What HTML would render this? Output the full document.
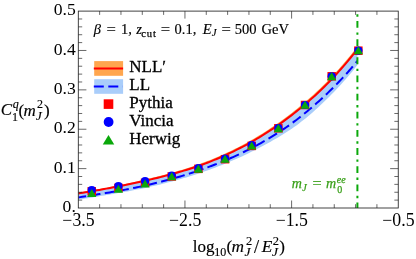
<!DOCTYPE html>
<html><head><meta charset="utf-8"><title>plot</title><style>html,body{margin:0;padding:0;background:#fff}svg text{font-family:"Liberation Serif",serif}</style></head><body>
<svg width="416" height="259" viewBox="0 0 416 259" style="display:block;will-change:transform">
<rect width="416" height="259" fill="#fff"/>
<clipPath id="c"><rect x="78.3" y="11.1" width="319.95" height="196.9"/></clipPath>
<g clip-path="url(#c)">
<path d="M78.30,192.62 L80.65,192.23 L82.99,191.84 L85.34,191.44 L87.68,191.04 L90.03,190.63 L92.37,190.22 L94.72,189.81 L97.06,189.39 L99.41,188.96 L101.75,188.53 L104.10,188.10 L106.44,187.65 L108.79,187.21 L111.14,186.76 L113.48,186.30 L115.83,185.84 L118.17,185.37 L120.52,184.90 L122.86,184.42 L125.21,183.93 L127.55,183.44 L129.90,182.94 L132.24,182.44 L134.59,181.92 L136.93,181.40 L139.28,180.87 L141.63,180.34 L143.97,179.80 L146.32,179.25 L148.66,178.69 L151.01,178.12 L153.35,177.55 L155.70,176.96 L158.04,176.37 L160.39,175.77 L162.73,175.16 L165.08,174.54 L167.42,173.91 L169.77,173.27 L172.12,172.62 L174.46,171.95 L176.81,171.28 L179.15,170.59 L181.50,169.88 L183.84,169.17 L186.19,168.43 L188.53,167.69 L190.88,166.92 L193.22,166.14 L195.57,165.34 L197.91,164.53 L200.26,163.69 L202.61,162.84 L204.95,161.97 L207.30,161.07 L209.64,160.16 L211.99,159.22 L214.33,158.26 L216.68,157.27 L219.02,156.27 L221.37,155.24 L223.71,154.18 L226.06,153.11 L228.40,152.01 L230.75,150.88 L233.09,149.74 L235.44,148.57 L237.79,147.38 L240.13,146.16 L242.48,144.93 L244.82,143.66 L247.17,142.38 L249.51,141.07 L251.86,139.74 L254.20,138.38 L256.55,137.00 L258.89,135.59 L261.24,134.15 L263.58,132.68 L265.93,131.19 L268.28,129.67 L270.62,128.12 L272.97,126.55 L275.31,124.94 L277.66,123.31 L280.00,121.64 L282.35,119.95 L284.69,118.23 L287.04,116.48 L289.38,114.70 L291.73,112.89 L294.07,111.06 L296.42,109.19 L298.77,107.29 L301.11,105.36 L303.46,103.40 L305.80,101.41 L308.15,99.37 L310.49,97.31 L312.84,95.20 L315.18,93.05 L317.53,90.87 L319.87,88.63 L322.22,86.36 L324.56,84.04 L326.91,81.68 L329.26,79.27 L331.60,76.81 L333.95,74.31 L336.29,71.76 L338.64,69.16 L340.98,66.52 L343.33,63.82 L345.67,61.08 L348.02,58.28 L350.36,55.43 L352.71,52.54 L355.05,49.59 L357.40,46.59 L357.40,51.81 L355.05,54.78 L352.71,57.70 L350.36,60.57 L348.02,63.38 L345.67,66.15 L343.33,68.86 L340.98,71.53 L338.64,74.14 L336.29,76.71 L333.95,79.23 L331.60,81.70 L329.26,84.13 L326.91,86.51 L324.56,88.84 L322.22,91.13 L319.87,93.37 L317.53,95.57 L315.18,97.73 L312.84,99.84 L310.49,101.92 L308.15,103.96 L305.80,105.96 L303.46,107.92 L301.11,109.86 L298.77,111.75 L296.42,113.62 L294.07,115.46 L291.73,117.26 L289.38,119.04 L287.04,120.79 L284.69,122.51 L282.35,124.20 L280.00,125.86 L277.66,127.49 L275.31,129.10 L272.97,130.67 L270.62,132.22 L268.28,133.74 L265.93,135.23 L263.58,136.69 L261.24,138.12 L258.89,139.53 L256.55,140.91 L254.20,142.26 L251.86,143.59 L249.51,144.89 L247.17,146.17 L244.82,147.43 L242.48,148.66 L240.13,149.86 L237.79,151.05 L235.44,152.21 L233.09,153.35 L230.75,154.46 L228.40,155.56 L226.06,156.62 L223.71,157.67 L221.37,158.69 L219.02,159.69 L216.68,160.67 L214.33,161.62 L211.99,162.55 L209.64,163.46 L207.30,164.35 L204.95,165.21 L202.61,166.05 L200.26,166.88 L197.91,167.68 L195.57,168.47 L193.22,169.23 L190.88,169.98 L188.53,170.72 L186.19,171.44 L183.84,172.14 L181.50,172.82 L179.15,173.50 L176.81,174.15 L174.46,174.80 L172.12,175.43 L169.77,176.06 L167.42,176.67 L165.08,177.27 L162.73,177.86 L160.39,178.44 L158.04,179.01 L155.70,179.57 L153.35,180.12 L151.01,180.67 L148.66,181.20 L146.32,181.73 L143.97,182.25 L141.63,182.76 L139.28,183.27 L136.93,183.76 L134.59,184.25 L132.24,184.74 L129.90,185.21 L127.55,185.68 L125.21,186.14 L122.86,186.60 L120.52,187.05 L118.17,187.49 L115.83,187.93 L113.48,188.36 L111.14,188.78 L108.79,189.21 L106.44,189.62 L104.10,190.03 L101.75,190.43 L99.41,190.83 L97.06,191.23 L94.72,191.62 L92.37,192.00 L90.03,192.38 L87.68,192.76 L85.34,193.13 L82.99,193.50 L80.65,193.86 L78.30,194.22Z" fill="#ffa64f"/>
<path d="M78.30,193.42 L80.65,193.04 L82.99,192.67 L85.34,192.29 L87.68,191.90 L90.03,191.51 L92.37,191.11 L94.72,190.71 L97.06,190.31 L99.41,189.90 L101.75,189.48 L104.10,189.06 L106.44,188.64 L108.79,188.21 L111.14,187.77 L113.48,187.33 L115.83,186.88 L118.17,186.43 L120.52,185.97 L122.86,185.51 L125.21,185.04 L127.55,184.56 L129.90,184.08 L132.24,183.59 L134.59,183.09 L136.93,182.58 L139.28,182.07 L141.63,181.55 L143.97,181.02 L146.32,180.49 L148.66,179.94 L151.01,179.39 L153.35,178.83 L155.70,178.27 L158.04,177.69 L160.39,177.10 L162.73,176.51 L165.08,175.90 L167.42,175.29 L169.77,174.66 L172.12,174.03 L174.46,173.38 L176.81,172.72 L179.15,172.04 L181.50,171.35 L183.84,170.65 L186.19,169.94 L188.53,169.20 L190.88,168.45 L193.22,167.69 L195.57,166.91 L197.91,166.10 L200.26,165.29 L202.61,164.45 L204.95,163.59 L207.30,162.71 L209.64,161.81 L211.99,160.89 L214.33,159.94 L216.68,158.97 L219.02,157.98 L221.37,156.97 L223.71,155.93 L226.06,154.87 L228.40,153.78 L230.75,152.67 L233.09,151.54 L235.44,150.39 L237.79,149.21 L240.13,148.01 L242.48,146.79 L244.82,145.55 L247.17,144.28 L249.51,142.98 L251.86,141.67 L254.20,140.32 L256.55,138.95 L258.89,137.56 L261.24,136.14 L263.58,134.69 L265.93,133.21 L268.28,131.71 L270.62,130.17 L272.97,128.61 L275.31,127.02 L277.66,125.40 L280.00,123.75 L282.35,122.07 L284.69,120.37 L287.04,118.63 L289.38,116.87 L291.73,115.08 L294.07,113.26 L296.42,111.40 L298.77,109.52 L301.11,107.61 L303.46,105.66 L305.80,103.68 L308.15,101.67 L310.49,99.61 L312.84,97.52 L315.18,95.39 L317.53,93.22 L319.87,91.00 L322.22,88.74 L324.56,86.44 L326.91,84.09 L329.26,81.70 L331.60,79.26 L333.95,76.77 L336.29,74.24 L338.64,71.65 L340.98,69.02 L343.33,66.34 L345.67,63.61 L348.02,60.83 L350.36,58.00 L352.71,55.12 L355.05,52.19 L357.40,49.20 L357.40,65.10 L355.05,68.03 L352.71,70.89 L350.36,73.70 L348.02,76.46 L345.67,79.16 L343.33,81.81 L340.98,84.41 L338.64,86.96 L336.29,89.46 L333.95,91.92 L331.60,94.34 L329.26,96.71 L326.91,99.04 L324.56,101.33 L322.22,103.57 L319.87,105.78 L317.53,107.94 L315.18,110.07 L312.84,112.15 L310.49,114.19 L308.15,116.19 L305.80,118.13 L303.46,120.03 L301.11,121.87 L298.77,123.66 L296.42,125.40 L294.07,127.09 L291.73,128.72 L289.38,130.31 L287.04,131.86 L284.69,133.36 L282.35,134.83 L280.00,136.26 L277.66,137.66 L275.31,139.03 L272.97,140.37 L270.62,141.69 L268.28,142.99 L265.93,144.27 L263.58,145.54 L261.24,146.79 L258.89,148.02 L256.55,149.23 L254.20,150.43 L251.86,151.61 L249.51,152.77 L247.17,153.91 L244.82,155.03 L242.48,156.13 L240.13,157.22 L237.79,158.28 L235.44,159.32 L233.09,160.35 L230.75,161.35 L228.40,162.34 L226.06,163.31 L223.71,164.26 L221.37,165.20 L219.02,166.12 L216.68,167.02 L214.33,167.90 L211.99,168.78 L209.64,169.63 L207.30,170.47 L204.95,171.30 L202.61,172.12 L200.26,172.92 L197.91,173.70 L195.57,174.47 L193.22,175.23 L190.88,175.97 L188.53,176.69 L186.19,177.41 L183.84,178.10 L181.50,178.79 L179.15,179.46 L176.81,180.12 L174.46,180.76 L172.12,181.39 L169.77,182.01 L167.42,182.62 L165.08,183.22 L162.73,183.81 L160.39,184.39 L158.04,184.95 L155.70,185.51 L153.35,186.06 L151.01,186.60 L148.66,187.12 L146.32,187.64 L143.97,188.15 L141.63,188.65 L139.28,189.14 L136.93,189.61 L134.59,190.08 L132.24,190.54 L129.90,190.99 L127.55,191.43 L125.21,191.86 L122.86,192.28 L120.52,192.70 L118.17,193.11 L115.83,193.52 L113.48,193.92 L111.14,194.32 L108.79,194.71 L106.44,195.10 L104.10,195.49 L101.75,195.87 L99.41,196.25 L97.06,196.63 L94.72,197.01 L92.37,197.39 L90.03,197.76 L87.68,198.14 L85.34,198.51 L82.99,198.88 L80.65,199.25 L78.30,199.62Z" fill="#a9cdfa"/>
<path d="M78.30,197.42 L80.26,197.12 L82.22,196.82 L84.18,196.52 L86.14,196.22 L88.11,195.91 L90.07,195.61 L92.03,195.30 L93.99,194.99 L95.95,194.68 L97.91,194.36 L99.87,194.04 L101.83,193.72 L103.79,193.40 L105.75,193.07 L107.72,192.75 L109.68,192.42 L111.64,192.08 L113.60,191.74 L115.56,191.40 L117.52,191.05 L119.48,190.70 L121.44,190.35 L123.40,189.99 L125.36,189.62 L127.33,189.25 L129.29,188.87 L131.25,188.49 L133.21,188.10 L135.17,187.70 L137.13,187.29 L139.09,186.88 L141.05,186.46 L143.01,186.03 L144.97,185.59 L146.94,185.15 L148.90,184.69 L150.86,184.23 L152.82,183.77 L154.78,183.29 L156.74,182.81 L158.70,182.32 L160.66,181.83 L162.62,181.33 L164.58,180.81 L166.55,180.30 L168.51,179.77 L170.47,179.24 L172.43,178.69 L174.39,178.14 L176.35,177.58 L178.31,177.01 L180.27,176.43 L182.23,175.85 L184.19,175.25 L186.16,174.64 L188.12,174.02 L190.08,173.40 L192.04,172.76 L194.00,172.11" fill="none" stroke="#0000ff" stroke-width="2" stroke-dasharray="10 4.4" stroke-dashoffset="2.00"/>
<path d="M194.00,172.11 L195.23,171.70 L196.47,171.28 L197.70,170.86 L198.94,170.43 L200.17,170.00 L201.41,169.57 L202.64,169.13 L203.88,168.69 L205.11,168.24 L206.34,167.80 L207.58,167.34 L208.81,166.88 L210.05,166.42 L211.28,165.96 L212.52,165.49 L213.75,165.02 L214.99,164.54 L216.22,164.06 L217.46,163.57 L218.69,163.08 L219.92,162.59 L221.16,162.09 L222.39,161.59 L223.63,161.08 L224.86,160.57 L226.10,160.05 L227.33,159.53 L228.57,159.00 L229.80,158.47" fill="none" stroke="#0000ff" stroke-width="2" stroke-dasharray="10 4.2"/>
<path d="M229.80,158.47 L231.42,157.76 L233.03,157.05 L234.65,156.32 L236.26,155.59 L237.88,154.84 L239.49,154.09 L241.11,153.32 L242.72,152.55 L244.34,151.76 L245.95,150.96 L247.57,150.15 L249.18,149.33 L250.80,148.50 L252.41,147.66 L254.03,146.80 L255.64,145.94 L257.26,145.06 L258.87,144.17 L260.49,143.27 L262.10,142.36 L263.72,141.44 L265.33,140.51 L266.95,139.56 L268.56,138.60 L270.18,137.64 L271.79,136.66 L273.41,135.66 L275.03,134.65 L276.64,133.63 L278.26,132.60 L279.87,131.55 L281.49,130.49 L283.10,129.41 L284.72,128.32 L286.33,127.21 L287.95,126.08 L289.56,124.94 L291.18,123.78 L292.79,122.60 L294.41,121.40 L296.02,120.19 L297.64,118.96 L299.25,117.71 L300.87,116.44 L302.48,115.16 L304.10,113.85 L305.71,112.53 L307.33,111.20 L308.94,109.84 L310.56,108.47 L312.17,107.09 L313.79,105.69 L315.41,104.27 L317.02,102.84 L318.64,101.39 L320.25,99.93 L321.87,98.45 L323.48,96.96 L325.10,95.45 L326.71,93.92 L328.33,92.38 L329.94,90.82 L331.56,89.24 L333.17,87.64 L334.79,86.02 L336.40,84.39 L338.02,82.73 L339.63,81.05 L341.25,79.35 L342.86,77.62 L344.48,75.87 L346.09,74.10 L347.71,72.30 L349.32,70.47 L350.94,68.61 L352.55,66.73 L354.17,64.82 L355.78,62.87 L357.40,60.90" fill="none" stroke="#0000ff" stroke-width="2" stroke-dasharray="10 4.5"/>
<path d="M78.30,193.42 L80.65,193.04 L82.99,192.67 L85.34,192.29 L87.68,191.90 L90.03,191.51 L92.37,191.11 L94.72,190.71 L97.06,190.31 L99.41,189.90 L101.75,189.48 L104.10,189.06 L106.44,188.64 L108.79,188.21 L111.14,187.77 L113.48,187.33 L115.83,186.88 L118.17,186.43 L120.52,185.97 L122.86,185.51 L125.21,185.04 L127.55,184.56 L129.90,184.08 L132.24,183.59 L134.59,183.09 L136.93,182.58 L139.28,182.07 L141.63,181.55 L143.97,181.02 L146.32,180.49 L148.66,179.94 L151.01,179.39 L153.35,178.83 L155.70,178.27 L158.04,177.69 L160.39,177.10 L162.73,176.51 L165.08,175.90 L167.42,175.29 L169.77,174.66 L172.12,174.03 L174.46,173.38 L176.81,172.72 L179.15,172.04 L181.50,171.35 L183.84,170.65 L186.19,169.94 L188.53,169.20 L190.88,168.45 L193.22,167.69 L195.57,166.91 L197.91,166.10 L200.26,165.29 L202.61,164.45 L204.95,163.59 L207.30,162.71 L209.64,161.81 L211.99,160.89 L214.33,159.94 L216.68,158.97 L219.02,157.98 L221.37,156.97 L223.71,155.93 L226.06,154.87 L228.40,153.78 L230.75,152.67 L233.09,151.54 L235.44,150.39 L237.79,149.21 L240.13,148.01 L242.48,146.79 L244.82,145.55 L247.17,144.28 L249.51,142.98 L251.86,141.67 L254.20,140.32 L256.55,138.95 L258.89,137.56 L261.24,136.14 L263.58,134.69 L265.93,133.21 L268.28,131.71 L270.62,130.17 L272.97,128.61 L275.31,127.02 L277.66,125.40 L280.00,123.75 L282.35,122.07 L284.69,120.37 L287.04,118.63 L289.38,116.87 L291.73,115.08 L294.07,113.26 L296.42,111.40 L298.77,109.52 L301.11,107.61 L303.46,105.66 L305.80,103.68 L308.15,101.67 L310.49,99.61 L312.84,97.52 L315.18,95.39 L317.53,93.22 L319.87,91.00 L322.22,88.74 L324.56,86.44 L326.91,84.09 L329.26,81.70 L331.60,79.26 L333.95,76.77 L336.29,74.24 L338.64,71.65 L340.98,69.02 L343.33,66.34 L345.67,63.61 L348.02,60.83 L350.36,58.00 L352.71,55.12 L355.05,52.19 L357.40,49.20" fill="none" stroke="#ff0000" stroke-width="2"/>
<path d="M357.4,14.25 V208.0" fill="none" stroke="#0aa80a" stroke-width="2" stroke-dasharray="2.4 4.4 6.8 4.55"/>
</g>
<rect x="87.50" y="187.05" width="8.5" height="8.5" fill="#ff0000"/>
<rect x="114.16" y="183.62" width="8.5" height="8.5" fill="#ff0000"/>
<rect x="140.82" y="178.55" width="8.5" height="8.5" fill="#ff0000"/>
<rect x="167.48" y="172.20" width="8.5" height="8.5" fill="#ff0000"/>
<rect x="194.14" y="164.60" width="8.5" height="8.5" fill="#ff0000"/>
<rect x="220.80" y="154.95" width="8.5" height="8.5" fill="#ff0000"/>
<rect x="247.46" y="141.65" width="8.5" height="8.5" fill="#ff0000"/>
<rect x="274.12" y="124.05" width="8.5" height="8.5" fill="#ff0000"/>
<rect x="300.78" y="100.75" width="8.5" height="8.5" fill="#ff0000"/>
<rect x="327.44" y="72.05" width="8.5" height="8.5" fill="#ff0000"/>
<rect x="354.10" y="46.45" width="8.5" height="8.5" fill="#ff0000"/>
<circle cx="91.75" cy="190.00" r="4.1" fill="#0000ff"/>
<circle cx="118.41" cy="186.00" r="4.1" fill="#0000ff"/>
<circle cx="145.07" cy="181.00" r="4.1" fill="#0000ff"/>
<circle cx="171.73" cy="175.50" r="4.1" fill="#0000ff"/>
<circle cx="198.39" cy="168.00" r="4.1" fill="#0000ff"/>
<circle cx="225.05" cy="158.50" r="4.1" fill="#0000ff"/>
<circle cx="251.71" cy="145.20" r="4.1" fill="#0000ff"/>
<circle cx="278.37" cy="128.00" r="4.1" fill="#0000ff"/>
<circle cx="305.03" cy="105.00" r="4.1" fill="#0000ff"/>
<circle cx="331.69" cy="76.30" r="4.1" fill="#0000ff"/>
<circle cx="358.35" cy="50.70" r="4.1" fill="#0000ff"/>
<path d="M91.75,189.00 L96.35,197.05 L87.15,197.05Z" fill="#0aa80a"/>
<path d="M118.41,184.65 L123.01,192.70 L113.81,192.70Z" fill="#0aa80a"/>
<path d="M145.07,179.50 L149.67,187.55 L140.47,187.55Z" fill="#0aa80a"/>
<path d="M171.73,172.30 L176.33,180.35 L167.13,180.35Z" fill="#0aa80a"/>
<path d="M198.39,164.60 L202.99,172.65 L193.79,172.65Z" fill="#0aa80a"/>
<path d="M225.05,154.80 L229.65,162.85 L220.45,162.85Z" fill="#0aa80a"/>
<path d="M251.71,141.50 L256.31,149.55 L247.11,149.55Z" fill="#0aa80a"/>
<path d="M278.37,124.10 L282.97,132.15 L273.77,132.15Z" fill="#0aa80a"/>
<path d="M305.03,100.80 L309.63,108.85 L300.43,108.85Z" fill="#0aa80a"/>
<path d="M331.69,72.15 L336.29,80.20 L327.09,80.20Z" fill="#0aa80a"/>
<path d="M358.35,46.30 L362.95,54.35 L353.75,54.35Z" fill="#0aa80a"/>
<path d="M99.63,208.0 v-3.8 M99.63,11.1 v3.8 M120.96,208.0 v-3.8 M120.96,11.1 v3.8 M142.29,208.0 v-3.8 M142.29,11.1 v3.8 M163.62,208.0 v-3.8 M163.62,11.1 v3.8 M184.95,208.0 v-7.5 M184.95,11.1 v7.5 M206.28,208.0 v-3.8 M206.28,11.1 v3.8 M227.61,208.0 v-3.8 M227.61,11.1 v3.8 M248.94,208.0 v-3.8 M248.94,11.1 v3.8 M270.27,208.0 v-3.8 M270.27,11.1 v3.8 M291.60,208.0 v-7.5 M291.60,11.1 v7.5 M312.93,208.0 v-3.8 M312.93,11.1 v3.8 M334.26,208.0 v-3.8 M334.26,11.1 v3.8 M355.59,208.0 v-3.8 M355.59,11.1 v3.8 M376.92,208.0 v-3.8 M376.92,11.1 v3.8 M78.3,200.12 h3.9 M398.25,200.12 h-3.9 M78.3,192.25 h3.9 M398.25,192.25 h-3.9 M78.3,184.37 h3.9 M398.25,184.37 h-3.9 M78.3,176.50 h3.9 M398.25,176.50 h-3.9 M78.3,168.62 h8.1 M398.25,168.62 h-8.1 M78.3,160.74 h3.9 M398.25,160.74 h-3.9 M78.3,152.87 h3.9 M398.25,152.87 h-3.9 M78.3,144.99 h3.9 M398.25,144.99 h-3.9 M78.3,137.12 h3.9 M398.25,137.12 h-3.9 M78.3,129.24 h8.1 M398.25,129.24 h-8.1 M78.3,121.36 h3.9 M398.25,121.36 h-3.9 M78.3,113.49 h3.9 M398.25,113.49 h-3.9 M78.3,105.61 h3.9 M398.25,105.61 h-3.9 M78.3,97.74 h3.9 M398.25,97.74 h-3.9 M78.3,89.86 h8.1 M398.25,89.86 h-8.1 M78.3,81.98 h3.9 M398.25,81.98 h-3.9 M78.3,74.11 h3.9 M398.25,74.11 h-3.9 M78.3,66.23 h3.9 M398.25,66.23 h-3.9 M78.3,58.36 h3.9 M398.25,58.36 h-3.9 M78.3,50.48 h8.1 M398.25,50.48 h-8.1 M78.3,42.60 h3.9 M398.25,42.60 h-3.9 M78.3,34.73 h3.9 M398.25,34.73 h-3.9 M78.3,26.85 h3.9 M398.25,26.85 h-3.9 M78.3,18.98 h3.9 M398.25,18.98 h-3.9" stroke="#2a2a2a" stroke-width="0.7" fill="none"/>
<rect x="78.3" y="11.1" width="319.95" height="196.9" fill="none" stroke="#222" stroke-width="0.85"/>
<rect x="94.2" y="61.1" width="28.9" height="14.7" fill="#ffa64f"/>
<path d="M93.8,68.5 H123.1" stroke="#ff0000" stroke-width="2"/>
<rect x="94.2" y="79.2" width="28.9" height="14.6" fill="#a9cdfa"/>
<path d="M93.8,86.4 H122.9" stroke="#0000ff" stroke-width="2" stroke-dasharray="10 4.5"/>
<rect x="103.7" y="99.3" width="9.6" height="9.6" fill="#ff0000"/>
<circle cx="108.6" cy="122" r="4.9" fill="#0000ff"/>
<path d="M108.5,135 L114.25,144.5 L102.75,144.5Z" fill="#0aa80a"/>
<text x="129.3" y="72.25" font-size="17" text-anchor="start"  stroke="#000" stroke-width="0.3">NLL′</text>
<text x="129.3" y="90.1" font-size="17" text-anchor="start"  stroke="#000" stroke-width="0.3">LL</text>
<text x="129.3" y="107.9" font-size="17" text-anchor="start"  stroke="#000" stroke-width="0.3">Pythia</text>
<text x="129.3" y="126" font-size="17" text-anchor="start"  stroke="#000" stroke-width="0.3">Vincia</text>
<text x="129.3" y="144" font-size="17" text-anchor="start"  stroke="#000" stroke-width="0.3">Herwig</text>
<text x="75.8" y="212.2" font-size="17.6" text-anchor="end"  >0.</text>
<text x="75.8" y="172.82" font-size="17.6" text-anchor="end"  >0.1</text>
<text x="75.8" y="133.44" font-size="17.6" text-anchor="end"  >0.2</text>
<text x="75.8" y="94.05999999999999" font-size="17.6" text-anchor="end"  >0.3</text>
<text x="75.8" y="54.67999999999999" font-size="17.6" text-anchor="end"  >0.4</text>
<text x="75.8" y="15.299999999999994" font-size="17.6" text-anchor="end"  >0.5</text>
<text x="78.5" y="225.8" font-size="17.8" text-anchor="middle"  >−3.5</text>
<text x="185.14999999999998" y="225.8" font-size="17.8" text-anchor="middle"  >−2.5</text>
<text x="291.79999999999995" y="225.8" font-size="17.8" text-anchor="middle"  >−1.5</text>
<text x="398.45" y="225.8" font-size="17.8" text-anchor="middle"  >−0.5</text>
<text x="93.8" y="34.0" font-size="14.5" font-style="italic" stroke="#000" stroke-width="0.15" >β</text>
<text x="106.4" y="34.0" font-size="14.5" textLength="9.40" lengthAdjust="spacingAndGlyphs" stroke="#000" stroke-width="0.15" >=</text>
<text x="120.9" y="34.0" font-size="14.5" stroke="#000" stroke-width="0.15" >1,</text>
<text x="136.3" y="34.0" font-size="14.5" font-style="italic" stroke="#000" stroke-width="0.15" >z</text>
<text x="141.2" y="36.6" font-size="10.5" letter-spacing="0.9" stroke="#000" stroke-width="0.25" >cut</text>
<text x="160.8" y="34.0" font-size="14.5" textLength="9.40" lengthAdjust="spacingAndGlyphs" stroke="#000" stroke-width="0.15" >=</text>
<text x="174.6" y="34.0" font-size="14.5" stroke="#000" stroke-width="0.15" >0.1,</text>
<text x="202.8" y="34.0" font-size="14.5" font-style="italic" stroke="#000" stroke-width="0.15" >E</text>
<text x="211.8" y="36.3" font-size="10.8" font-style="italic" stroke="#000" stroke-width="0.15" >J</text>
<text x="221.5" y="34.0" font-size="14.5" textLength="9.40" lengthAdjust="spacingAndGlyphs" stroke="#000" stroke-width="0.15" >=</text>
<text x="234.7" y="34.0" font-size="14.5" stroke="#000" stroke-width="0.15" >500</text>
<text x="261.6" y="34.0" font-size="14.5" stroke="#000" stroke-width="0.15" >GeV</text>
<text x="0.7" y="115.19999999999999" font-size="17" font-style="italic" stroke="#000" stroke-width="0.15" >C</text>
<text x="12.8" y="107.8" font-size="12" font-style="italic" stroke="#000" stroke-width="0.15" >q</text>
<text x="11.9" y="120.8" font-size="12" stroke="#000" stroke-width="0.15" >1</text>
<text x="18.5" y="115.6" font-size="17" stroke="#000" stroke-width="0.15" >(</text>
<text x="23.5" y="115.6" font-size="17" font-style="italic" stroke="#000" stroke-width="0.15" >m</text>
<text x="37.0" y="108.1" font-size="12" stroke="#000" stroke-width="0.15" >2</text>
<text x="36.0" y="119.6" font-size="13" font-style="italic" stroke="#000" stroke-width="0.15" >J</text>
<text x="43.9" y="115.6" font-size="17" stroke="#000" stroke-width="0.15" >)</text>
<text x="192.8" y="252.2" font-size="17" stroke="#000" stroke-width="0.15" >log</text>
<text x="214.3" y="255.6" font-size="12" stroke="#000" stroke-width="0.15" >10</text>
<text x="226.4" y="252.2" font-size="17" stroke="#000" stroke-width="0.15" >(</text>
<text x="231.4" y="252.2" font-size="17.3" font-style="italic" stroke="#000" stroke-width="0.15" >m</text>
<text x="245.9" y="245.0" font-size="12.5" stroke="#000" stroke-width="0.15" >2</text>
<text x="244.4" y="256.2" font-size="13.5" font-style="italic" stroke="#000" stroke-width="0.15" >J</text>
<text x="254.0" y="253.0" font-size="18.5" stroke="#000" stroke-width="0.15" >/</text>
<text x="261.8" y="252.2" font-size="17.3" font-style="italic" stroke="#000" stroke-width="0.15" >E</text>
<text x="272.8" y="245.0" font-size="12.5" stroke="#000" stroke-width="0.15" >2</text>
<text x="271.9" y="256.2" font-size="13.5" font-style="italic" stroke="#000" stroke-width="0.15" >J</text>
<text x="279.3" y="252.2" font-size="17" stroke="#000" stroke-width="0.15" >)</text>
<text x="291.7" y="187.9" font-size="14" font-style="italic" fill="#3aa01a" stroke="#3aa01a" stroke-width="0.25" >m</text>
<text x="302.2" y="191.1" font-size="10" font-style="italic" fill="#3aa01a" stroke="#3aa01a" stroke-width="0.25" >J</text>
<text x="312.6" y="187.9" font-size="14" textLength="9.08" lengthAdjust="spacingAndGlyphs" fill="#3aa01a" stroke="#3aa01a" stroke-width="0.25" >=</text>
<text x="326.0" y="187.9" font-size="14" font-style="italic" fill="#3aa01a" stroke="#3aa01a" stroke-width="0.25" >m</text>
<text x="336.8" y="182.9" font-size="10" font-style="italic" fill="#3aa01a" stroke="#3aa01a" stroke-width="0.25" >ee</text>
<text x="337.3" y="192.5" font-size="10" fill="#3aa01a" stroke="#3aa01a" stroke-width="0.25" >0</text>
</svg>
</body></html>
